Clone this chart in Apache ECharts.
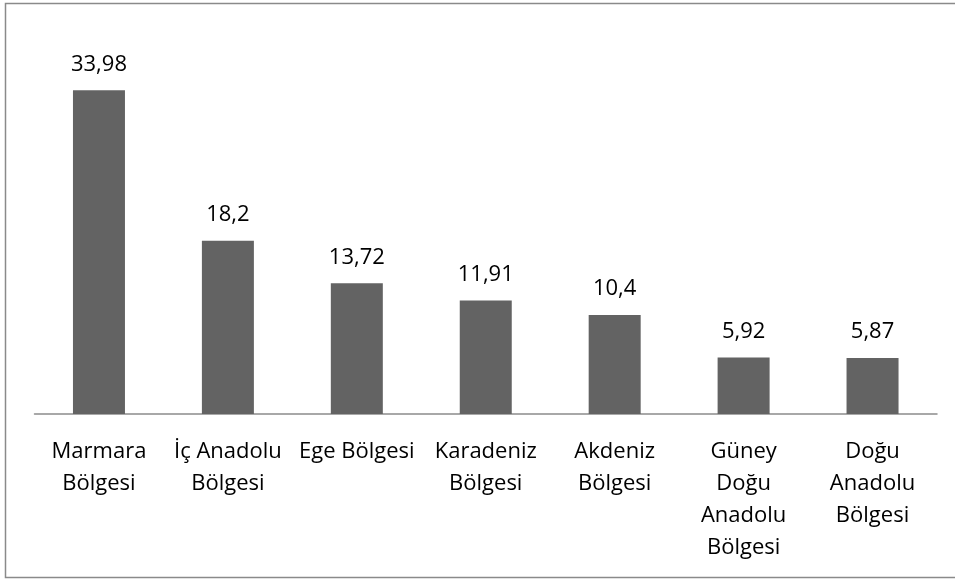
<!DOCTYPE html>
<html>
<head>
<meta charset="utf-8">
<script src="https://cdn.jsdelivr.net/npm/echarts@6/dist/echarts.min.js"></script>
<style>
  html, body { margin: 0; padding: 0; background: #fff; }
  #chart { width: 955px; height: 579px; }
</style>
</head>
<body>
<div id="chart"></div>
<script>
// bölgeler ve değerler
const regions = ['Marmara Bölgesi', 'İç Anadolu Bölgesi', 'Ege Bölgesi', 'Karadeniz Bölgesi',
  'Akdeniz Bölgesi', 'Güney Doğu Anadolu Bölgesi', 'Doğu Anadolu Bölgesi'];
const tickLabels = ['Marmara\nBölgesi', 'İç Anadolu\nBölgesi', 'Ege Bölgesi', 'Karadeniz\nBölgesi',
  'Akdeniz\nBölgesi', 'Güney\nDoğu\nAnadolu\nBölgesi', 'Doğu\nAnadolu\nBölgesi'];
const values = [33.98, 18.2, 13.72, 11.91, 10.4, 5.92, 5.87];

const chart = echarts.init(document.getElementById('chart'));

const font = 'Open Sans';

const option = {
  animation: false,
  graphic: [
    {
      type: 'rect',
      shape: { x: 5.5, y: 3.5, width: 960, height: 574 },
      style: { fill: 'none', stroke: '#8a8a8a', lineWidth: 1.5 },
      silent: true,
    },
  ],
  grid: { left: 34.5, right: 18, top: 33, bottom: 165 },
  xAxis: {
    type: 'category',
    data: regions,
    axisLine: { lineStyle: { color: '#8c8c8c', width: 1.5 } },
    axisTick: { show: false },
    axisLabel: {
      interval: 0,
      margin: 22,
      color: '#000',
      fontFamily: font,
      fontSize: 22,
      lineHeight: 32,
      formatter: (v, i) => tickLabels[i],
    },
  },
  yAxis: {
    type: 'value',
    min: 0,
    max: 40,
    show: false,
  },
  series: [
    {
      type: 'bar',
      data: values,
      barWidth: 52,
      itemStyle: { color: '#636363' },
      label: {
        show: true,
        position: 'top',
        distance: 15,
        color: '#000',
        fontFamily: font,
        fontSize: 22,
        formatter: p => String(p.value).replace('.', ','),
      },
    },
  ],
};

chart.setOption(option);
</script>
</body>
</html>
